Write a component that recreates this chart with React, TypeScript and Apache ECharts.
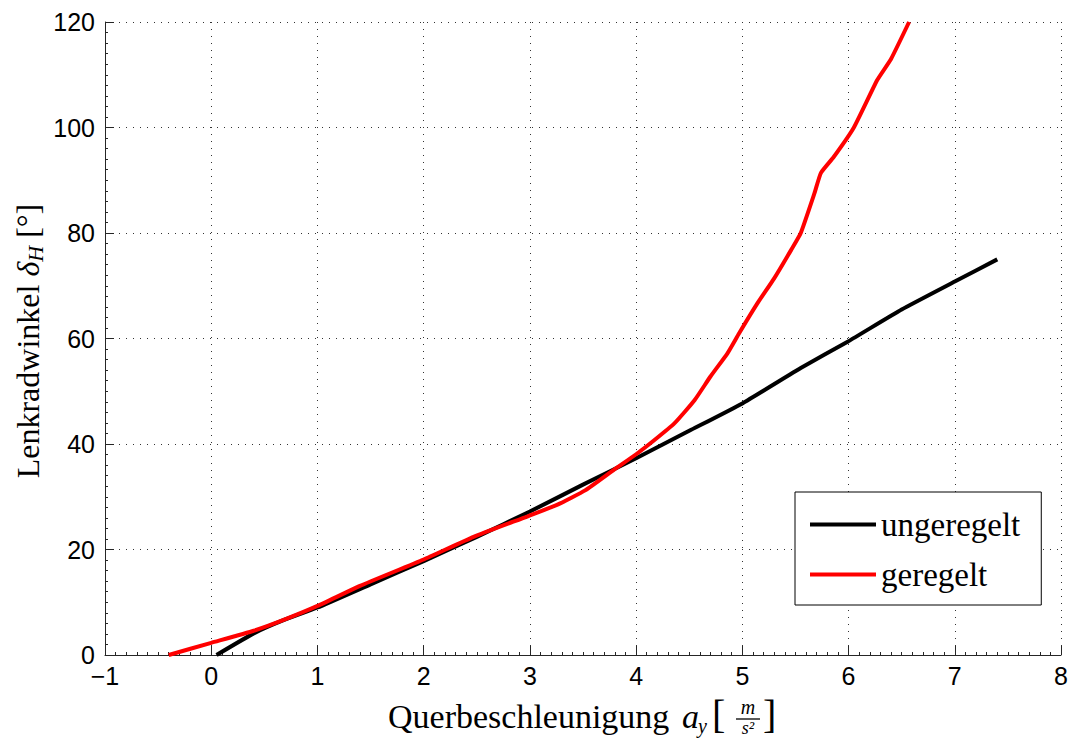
import React, { useEffect, useRef } from "react";
import * as echarts from "echarts";

// ungeregelt (black)
const ungeregeltX = [0.05, 0.4, 0.68, 1, 1.5, 2, 2.5, 3, 3.5, 4, 4.5, 5, 5.55, 6, 6.5, 7, 7.4];
const ungeregeltY = [0, 4.1, 6.6, 9, 13.4, 17.8, 22.4, 27.2, 32.3, 37.3, 42.5, 47.7, 54.4, 59.5, 65.5, 70.8, 75];

// geregelt (red)
const geregeltX = [-0.4, 0, 0.4, 0.7, 1, 1.4, 2, 2.47, 2.98, 3.26, 3.52, 3.79, 4.01, 4.17, 4.36, 4.55, 4.7, 4.86, 4.97, 5.14, 5.3, 5.46, 5.55, 5.68, 5.74, 5.86, 6.05, 6.27, 6.4, 6.57];
const geregeltY = [0, 2.3, 4.6, 6.8, 9.3, 13.1, 18.1, 22.4, 26.3, 28.5, 31.2, 35.1, 38.2, 40.7, 43.9, 48.3, 52.8, 57.2, 61, 66.6, 71.4, 76.8, 80, 87.6, 91.4, 94.4, 100, 109, 113, 120];

const seriesNames = ["ungeregelt", "geregelt"];
const xMin = -1, xMax = 8, xStep = 1;
const yMin = 0, yMax = 120, yStep = 20;

const zip = (xs: number[], ys: number[]) => xs.map((x, i) => [x, ys[i]]);

const SERIF = "Liberation Serif";
const SANS = "Liberation Sans";

export default function App() {
  const ref = useRef<HTMLDivElement>(null);
  useEffect(() => {
    const chart = echarts.init(ref.current!, null, { renderer: "svg" });
    const axisCommon = {
      type: "value" as const,
      axisTick: { show: true, inside: true, length: 9, lineStyle: { color: "#262626", width: 1 } },
      minorTick: { show: true, splitNumber: 10, length: 3, lineStyle: { color: "#262626", width: 1 } },
      splitLine: { show: true, lineStyle: { type: [1, 6], color: "#333", width: 1 } },
      minorSplitLine: { show: false },
    };
    chart.setOption({
      animation: false,
      backgroundColor: "#fff",
      grid: { left: 105, right: 12, top: 22, bottom: 83, containLabel: false },
      xAxis: {
        ...axisCommon,
        min: xMin,
        max: xMax,
        interval: xStep,
        axisLine: { show: true, onZero: false, lineStyle: { color: "#262626", width: 1 } },
        axisLabel: {
          formatter: (v: number) => (v < 0 ? "\u2212" + Math.abs(v) : String(v)),
          fontFamily: SANS,
          fontSize: 25,
          color: "#000",
          margin: 8,
        },
      },
      yAxis: {
        ...axisCommon,
        min: yMin,
        max: yMax,
        interval: yStep,
        axisLine: { show: true, onZero: false, lineStyle: { color: "#262626", width: 1 } },
        axisLabel: { fontFamily: SANS, fontSize: 25, color: "#000", margin: 10 },
      },
      legend: {
        orient: "vertical",
        left: 795,
        top: 492,
        icon: "rect",
        itemWidth: 66,
        itemHeight: 4,
        itemGap: 17,
        padding: [16, 21, 14, 15],
        backgroundColor: "#fff",
        borderColor: "#000",
        borderWidth: 1,
        borderRadius: 0,
        textStyle: { fontFamily: SERIF, fontSize: 33, color: "#000" },
        data: seriesNames,
      },
      series: [
        {
          name: seriesNames[0],
          type: "line",
          data: zip(ungeregeltX, ungeregeltY),
          symbol: "none",
          smooth: 0.15,
          lineStyle: { color: "#000", width: 4 },
          itemStyle: { color: "#000" },
          z: 2,
        },
        {
          name: seriesNames[1],
          type: "line",
          data: zip(geregeltX, geregeltY),
          symbol: "none",
          smooth: 0.15,
          lineStyle: { color: "#ff0000", width: 4 },
          itemStyle: { color: "#ff0000" },
          z: 3,
        },
      ],
      graphic: [
        {
          type: "text",
          x: 28,
          y: 341,
          rotation: Math.PI / 2,
          style: {
            text: "Lenkradwinkel {i|δ}{s|H} [°]",
            fontFamily: SERIF,
            fontSize: 32,
            fill: "#000",
            align: "center",
            verticalAlign: "middle",
            rich: {
              i: { fontFamily: SERIF, fontStyle: "italic", fontSize: 32, lineHeight: 36 },
              s: { fontFamily: SERIF, fontStyle: "italic", fontSize: 22, lineHeight: 22, verticalAlign: "bottom" },
            },
          },
        },
        {
          type: "text",
          x: 388,
          y: 716,
          style: { text: "Querbeschleunigung", fontFamily: SERIF, fontSize: 34, fill: "#000", align: "left", verticalAlign: "middle" },
        },
        {
          type: "text",
          x: 682,
          y: 716,
          style: { text: "a", fontFamily: SERIF, fontStyle: "italic", fontSize: 34, fill: "#000", align: "left", verticalAlign: "middle" },
        },
        {
          type: "text",
          x: 698,
          y: 726,
          style: { text: "y", fontFamily: SERIF, fontStyle: "italic", fontSize: 20, fill: "#000", align: "left", verticalAlign: "middle" },
        },
        {
          type: "text",
          x: 712,
          y: 714,
          style: { text: "[", fontFamily: SERIF, fontSize: 40, fill: "#000", align: "left", verticalAlign: "middle" },
        },
        {
          type: "text",
          x: 748,
          y: 707,
          style: { text: "m", fontFamily: SERIF, fontStyle: "italic", fontSize: 20, fill: "#000", align: "center", verticalAlign: "middle" },
        },
        {
          type: "line",
          shape: { x1: 736, y1: 719, x2: 760, y2: 719 },
          style: { stroke: "#000", lineWidth: 1.3 },
        },
        {
          type: "text",
          x: 748,
          y: 728,
          style: { text: "s²", fontFamily: SERIF, fontStyle: "italic", fontSize: 18, fill: "#000", align: "center", verticalAlign: "middle" },
        },
        {
          type: "text",
          x: 763,
          y: 714,
          style: { text: "]", fontFamily: SERIF, fontSize: 40, fill: "#000", align: "left", verticalAlign: "middle" },
        },
      ],
    });
    return () => chart.dispose();
  }, []);
  return (
    <div
      ref={ref}
      style={{ position: "fixed", left: 0, top: 0, width: 1073, height: 738, background: "#fff" }}
    />
  );
}
